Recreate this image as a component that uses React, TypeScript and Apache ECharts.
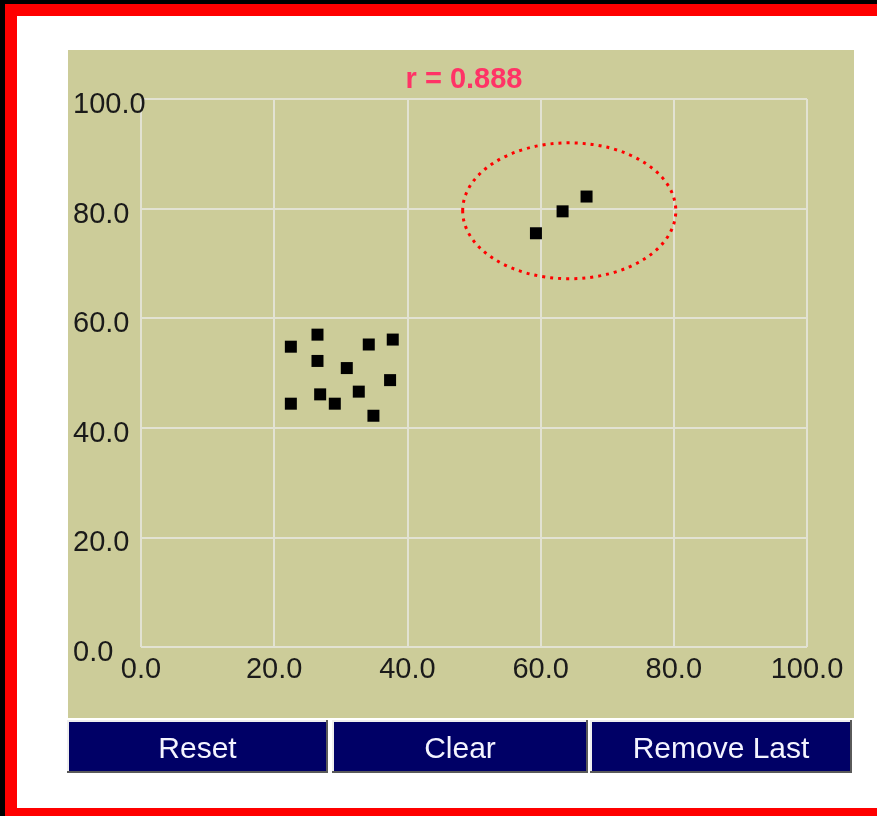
import React, { useEffect, useRef } from "react";
import * as echarts from "echarts";

const xValues = [22.5, 26.5, 26.5, 30.9, 34.2, 37.8, 37.4, 32.7, 26.9, 29.1, 22.5, 34.9, 59.3, 63.3, 66.9];
const yValues = [54.8, 57.0, 52.2, 50.9, 55.2, 56.1, 48.7, 46.6, 46.1, 44.4, 44.4, 42.2, 75.5, 79.5, 82.2];
const axisMin = 0;
const axisMax = 100;
const axisStep = 20;
const titleText = "r = 0.888";
const buttonLabels = ["Reset", "Clear", "Remove Last"];
// highlighted cluster (data units): center and radii
const ellipseCenter = [64.3, 79.6];
const ellipseRadii = [16, 12.4];

const FONT = "'Liberation Sans', Arial, sans-serif";

export default function App() {
  const ref = useRef<HTMLDivElement>(null);
  useEffect(() => {
    if (!ref.current) return;
    const chart = echarts.init(ref.current, undefined, { renderer: "svg" });
    const data = xValues.map((x, i) => [x, yValues[i]]);
    const gridLine = { show: true, lineStyle: { color: "#e2e2d2", width: 2 } };
    const buttonRects = [
      [67, 720, 261, 53],
      [332, 720, 256, 53],
      [590, 720, 262, 53],
    ];
    const buttons: any[] = [];
    buttonRects.forEach(([x, y, w, h], i) => {
      buttons.push(
        { type: "rect", z: -5, shape: { x, y, width: w, height: h }, style: { fill: "#5a5a5a" } },
        { type: "rect", z: -4, shape: { x, y, width: w - 2, height: h - 2 }, style: { fill: "#eeeeee" } },
        { type: "rect", z: -3, shape: { x: x + 2, y: y + 2, width: w - 4, height: h - 4 }, style: { fill: "#000066" } },
        {
          type: "text",
          z: -2,
          x: x + w / 2,
          y: 747.5,
          style: {
            text: buttonLabels[i],
            fill: "#f4f4ff",
            font: `30px ${FONT}`,
            align: "center",
            verticalAlign: "middle",
          },
        }
      );
    });
    const baseGraphic: any[] = [
      { type: "rect", z: -20, shape: { x: 0, y: 0, width: 877, height: 816 }, style: { fill: "#000000" } },
      { type: "rect", z: -19, shape: { x: 5, y: 4, width: 872, height: 812 }, style: { fill: "#ff0000" } },
      { type: "rect", z: -18, shape: { x: 17, y: 16, width: 860, height: 792 }, style: { fill: "#ffffff" } },
      { type: "rect", z: -17, shape: { x: 68, y: 50, width: 786, height: 668 }, style: { fill: "#cccc99" } },
      {
        type: "text",
        z: 5,
        x: 464,
        y: 78,
        style: {
          text: titleText,
          fill: "#ff3366",
          font: `bold 29px ${FONT}`,
          align: "center",
          verticalAlign: "middle",
        },
      },
      ...buttons,
    ];
    chart.setOption({
      animation: false,
      textStyle: { fontFamily: FONT },
      grid: { left: 141, right: 70, top: 99, bottom: 169, containLabel: false },
      xAxis: {
        type: "value",
        min: axisMin,
        max: axisMax,
        interval: axisStep,
        axisLine: { show: false },
        axisTick: { show: false },
        splitLine: gridLine,
        axisLabel: {
          color: "#1a1a1a",
          fontSize: 29,
          lineHeight: 29,
          margin: 6,
          formatter: (v: number) => v.toFixed(1),
        },
      },
      yAxis: {
        type: "value",
        min: axisMin,
        max: axisMax,
        interval: axisStep,
        axisLine: { show: false },
        axisTick: { show: false },
        splitLine: gridLine,
        axisLabel: {
          color: "#1a1a1a",
          fontSize: 29,
          lineHeight: 29,
          align: "left",
          margin: 68,
          formatter: (v: number) => `{a|${v.toFixed(1)}}`,
          rich: {
            a: {
              color: "#1a1a1a",
              fontSize: 29,
              lineHeight: 29,
              fontFamily: FONT,
              padding: [8, 0, 0, 0],
            },
          },
        },
      },
      series: [
        {
          type: "scatter",
          data,
          symbol: "rect",
          symbolSize: 12,
          itemStyle: { color: "#000000", opacity: 1 },
          z: 3,
        },
      ],
      graphic: { elements: baseGraphic },
    });
    const c = chart.convertToPixel({ gridIndex: 0 }, ellipseCenter) as number[];
    const e = chart.convertToPixel({ gridIndex: 0 }, [
      ellipseCenter[0] + ellipseRadii[0],
      ellipseCenter[1] + ellipseRadii[1],
    ]) as number[];
    chart.setOption({
      graphic: {
        elements: [
          ...baseGraphic,
          {
            type: "ellipse",
            z: 10,
            shape: { cx: c[0], cy: c[1], rx: Math.abs(e[0] - c[0]), ry: Math.abs(c[1] - e[1]) },
            style: { fill: "none", stroke: "#ff0000", lineWidth: 3, lineDash: [3, 5] },
          },
        ],
      },
    });
    return () => chart.dispose();
  }, []);
  return (
    <div
      ref={ref}
      style={{ position: "fixed", left: 0, top: 0, width: 877, height: 816 }}
    />
  );
}
